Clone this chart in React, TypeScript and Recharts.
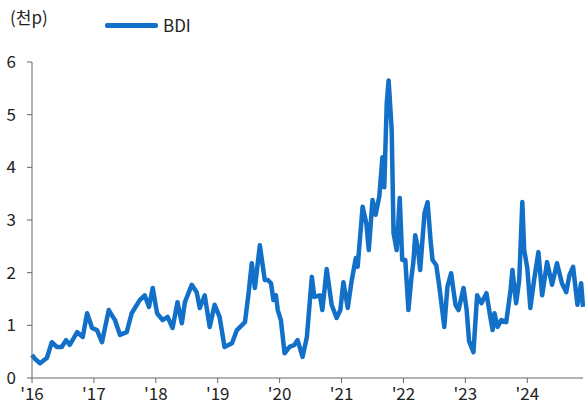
import React from "react";
import { LineChart, Line, XAxis, YAxis } from "recharts";

// decimal-year dates and BDI values (thousand points)
const dates = [
  2016.0, 2016.05, 2016.13, 2016.24, 2016.32, 2016.4, 2016.48, 2016.55, 2016.61, 2016.73,
  2016.82, 2016.89, 2016.97, 2017.05, 2017.13, 2017.24, 2017.34, 2017.42, 2017.53, 2017.61,
  2017.74, 2017.82, 2017.89, 2017.95, 2018.02, 2018.11, 2018.19, 2018.27, 2018.35, 2018.42,
  2018.47, 2018.58, 2018.66, 2018.71, 2018.79, 2018.87, 2018.95, 2019.03, 2019.11, 2019.23,
  2019.31, 2019.44, 2019.5, 2019.55, 2019.6, 2019.68, 2019.76, 2019.81, 2019.86, 2019.9,
  2019.94, 2019.97, 2020.02, 2020.08, 2020.16, 2020.24, 2020.29, 2020.37, 2020.44, 2020.52,
  2020.56, 2020.65, 2020.69, 2020.76, 2020.84, 2020.92, 2020.98, 2021.03, 2021.1, 2021.16,
  2021.23, 2021.26, 2021.34, 2021.4, 2021.44, 2021.5, 2021.55, 2021.61, 2021.66, 2021.69,
  2021.73, 2021.76, 2021.81, 2021.84, 2021.89, 2021.94, 2021.98, 2022.03, 2022.08, 2022.13,
  2022.16, 2022.19, 2022.23, 2022.27, 2022.34, 2022.39, 2022.44, 2022.47, 2022.53, 2022.58,
  2022.66, 2022.71, 2022.77, 2022.84, 2022.89, 2022.97, 2023.02, 2023.06, 2023.13, 2023.19,
  2023.26, 2023.34, 2023.39, 2023.44, 2023.47, 2023.52, 2023.58, 2023.66, 2023.73, 2023.76,
  2023.82, 2023.87, 2023.92, 2023.95, 2024.0, 2024.05, 2024.11, 2024.18, 2024.24, 2024.32,
  2024.4, 2024.48, 2024.56, 2024.63, 2024.68, 2024.74, 2024.81, 2024.87, 2024.9,
];

const bdi = [
  0.44, 0.36, 0.28, 0.38, 0.68, 0.59, 0.59, 0.72, 0.63, 0.87,
  0.78, 1.23, 0.95, 0.91, 0.68, 1.29, 1.1, 0.82, 0.87, 1.23,
  1.48, 1.57, 1.35, 1.71, 1.23, 1.1, 1.16, 0.95, 1.44, 1.04,
  1.44, 1.77, 1.63, 1.33, 1.57, 0.97, 1.39, 1.16, 0.59, 0.66,
  0.91, 1.06, 1.63, 2.18, 1.71, 2.52, 1.86, 1.86, 1.8, 1.48,
  1.57, 1.29, 1.1, 0.47, 0.59, 0.63, 0.72, 0.4, 0.78, 1.92,
  1.54, 1.57, 1.29, 2.07, 1.39, 1.14, 1.29, 1.82, 1.33, 1.82,
  2.28, 2.11, 3.25, 2.94, 2.43, 3.38, 3.1, 3.45, 4.19, 3.62,
  5.22, 5.65, 4.71, 2.75, 2.43, 3.42, 2.24, 2.24, 1.29, 1.92,
  2.2, 2.71, 2.49, 2.05, 3.13, 3.34, 2.58, 2.24, 2.14, 1.73,
  0.97, 1.73, 1.99, 1.39, 1.29, 1.71, 1.3, 0.7, 0.49, 1.57,
  1.42, 1.61, 1.25, 0.91, 1.23, 0.97, 1.1, 1.06, 1.67, 2.05,
  1.42, 1.86, 3.34, 2.43, 2.09, 1.33, 1.86, 2.39, 1.57, 2.2,
  1.77, 2.18, 1.8, 1.63, 1.95, 2.11, 1.39, 1.8, 1.35,
];

const yearTicks = [2016, 2017, 2018, 2019, 2020, 2021, 2022, 2023, 2024];
const yTicks = [0, 1, 2, 3, 4, 5, 6];

const data = dates.map((t, i) => ({ t, v: bdi[i] }));

const font = '"Noto Sans CJK KR", "Noto Sans", sans-serif';
const blue = "#1270c8";

export default function App() {
  return (
    <div style={{ position: "absolute", left: 0, top: 0, width: 585, height: 414, background: "#fff", fontFamily: font }}>
      <div style={{ position: "absolute", left: 10, top: 4, fontSize: 17, color: "#222" }}>(천p)</div>
      <div style={{ position: "absolute", left: 105, top: 23, width: 53, height: 4.5, background: blue, borderRadius: 2 }} />
      <div style={{ position: "absolute", left: 163, top: 12, fontSize: 17, color: "#222" }}>BDI</div>
      <LineChart width={585} height={414} data={data} margin={{ top: 62, right: 2, left: 0, bottom: 0 }}>
        <XAxis
          dataKey="t"
          type="number"
          domain={[2016, 2024.9]}
          ticks={yearTicks}
          tickFormatter={(v: number) => "'" + String(v).slice(2)}
          tick={{ fontSize: 17, fill: "#222", fontFamily: font }}
          stroke="#666"
          tickSize={5}
          tickMargin={5}
          height={36}
          interval={0}
        />
        <YAxis
          domain={[0, 6]}
          ticks={yTicks}
          tick={{ fontSize: 17, fill: "#222", fontFamily: font }}
          stroke="#666"
          tickSize={5}
          tickMargin={11}
          width={32}
          interval={0}
        />
        <Line
          dataKey="v"
          stroke={blue}
          strokeWidth={4.5}
          strokeLinejoin="round"
          dot={false}
          type="linear"
          isAnimationActive={false}
        />
      </LineChart>
    </div>
  );
}
